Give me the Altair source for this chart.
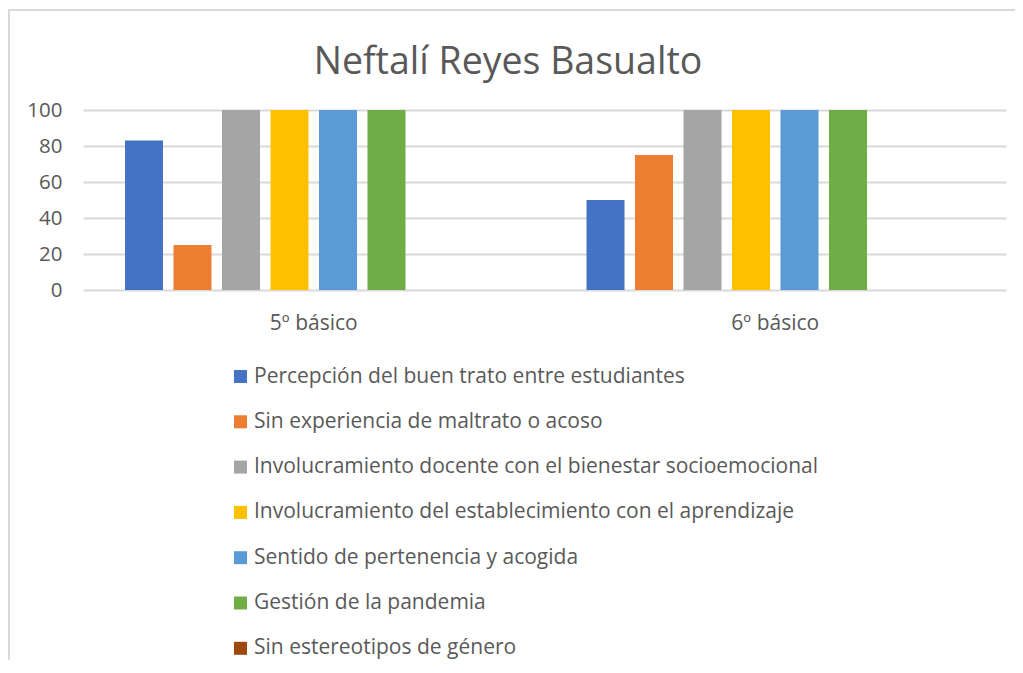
import altair as alt
import pandas as pd

TITLE = "Neftalí Reyes Basualto"
categories = ["5º básico", "6º básico"]
series = [
    "Percepción del buen trato entre estudiantes",
    "Sin experiencia de maltrato o acoso",
    "Involucramiento docente con el bienestar socioemocional",
    "Involucramiento del establecimiento con el aprendizaje",
    "Sentido de pertenencia y acogida",
    "Gestión de la pandemia",
    "Sin estereotipos de género",
]
values_5 = [83, 25, 100, 100, 100, 100, None]
values_6 = [50, 75, 100, 100, 100, 100, None]
colors = ["#4472C4", "#ED7D31", "#A5A5A5", "#FFC000", "#5B9BD5", "#70AD47", "#9E480E"]
y_ticks = [0, 20, 40, 60, 80, 100]

rows = []
for cat, vals in zip(categories, [values_5, values_6]):
    for s, v in zip(series, vals):
        rows.append({"grupo": cat, "serie": s, "valor": v})
df = pd.DataFrame(rows)

FONT = "Open Sans"
TXT = "#595959"
GRID = "#d9d9d9"

bars = alt.Chart(df).mark_bar().encode(
    x=alt.X(
        "grupo:N",
        sort=categories,
        scale=alt.Scale(domain=categories, paddingInner=0, paddingOuter=0),
        axis=alt.Axis(title=None, labelAngle=0, ticks=False, domain=False,
                      labelFontSize=21, labelFont=FONT, labelColor=TXT, labelPadding=22),
    ),
    xOffset=alt.XOffset(
        "serie:N",
        scale=alt.Scale(domain=series + [" "], paddingInner=0.2165, paddingOuter=0.866),
    ),
    y=alt.Y(
        "valor:Q",
        scale=alt.Scale(domain=[0, 100]),
        axis=alt.Axis(title=None, values=y_ticks, ticks=False, domain=False,
                      gridColor=GRID, gridWidth=1.8,
                      labelFontSize=20.5, labelFont=FONT, labelColor=TXT, labelPadding=21),
    ),
    color=alt.Color(
        "serie:N",
        scale=alt.Scale(domain=series, range=colors),
        legend=alt.Legend(
            title=None, orient="none", legendX=147, legendY=256, direction="vertical",
            symbolType="square", symbolSize=169, symbolStrokeWidth=0, symbolOpacity=1,
            labelFontSize=21, labelFont=FONT, labelColor=TXT, labelLimit=800,
            rowPadding=23.3, labelOffset=3, padding=0,
        ),
    ),
)

frame_data = alt.Data(values=[{"k": 1}])
left_border = alt.Chart(frame_data).mark_rule(color=GRID, strokeWidth=2).encode(
    x=alt.value(-74), y=alt.value(-100), y2=alt.value(600)
)
top_border = alt.Chart(frame_data).mark_rule(color=GRID, strokeWidth=2).encode(
    x=alt.value(-75), x2=alt.value(935), y=alt.value(-100)
)
title = alt.Chart(alt.Data(values=[{"t": TITLE}])).mark_text(
    font=FONT, fontSize=37.5, color=TXT, align="center", baseline="alphabetic"
).encode(x=alt.value(425), y=alt.value(-36), text="t:N")

chart = alt.layer(left_border, top_border, title, bars).properties(
    width=923, height=180,
    autosize=alt.AutoSizeParams(type="none"),
    padding={"left": 75, "top": 102, "right": 9, "bottom": 370},
    background="white",
).configure_view(stroke=None)

chart.save("out.html", embed_options={"renderer": "svg", "actions": False})
